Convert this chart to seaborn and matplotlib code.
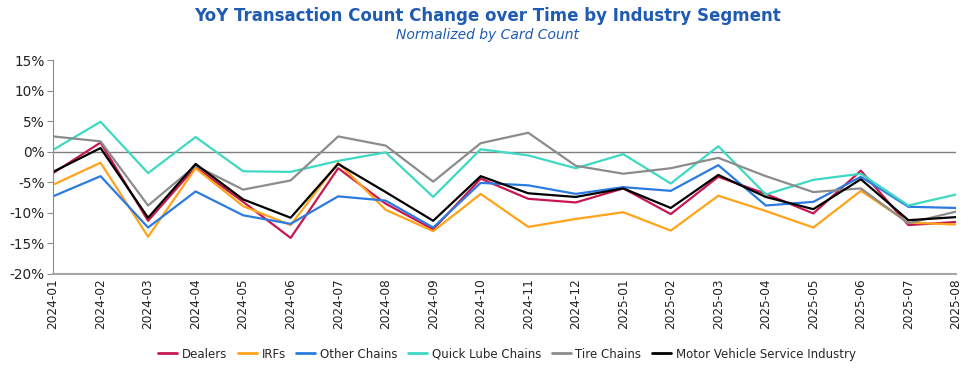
import matplotlib
matplotlib.use("Agg")
import matplotlib.pyplot as plt
import seaborn as sns
import pandas as pd
from matplotlib.ticker import FuncFormatter, MultipleLocator

months = ["2024-01", "2024-02", "2024-03", "2024-04", "2024-05", "2024-06", "2024-07",
          "2024-08", "2024-09", "2024-10", "2024-11", "2024-12", "2025-01", "2025-02",
          "2025-03", "2025-04", "2025-05", "2025-06", "2025-07", "2025-08"]

dealers = [-3.5, 1.5, -11.3, -2.5, -8.2, -14.1, -2.7, -8.5, -12.7, -4.4, -7.7, -8.3,
           -6.0, -10.2, -4.1, -6.9, -10.1, -3.1, -12.0, -11.5]
irfs = [-5.4, -1.8, -13.9, -2.7, -8.9, -12.0, -1.8, -9.5, -13.0, -6.9, -12.3, -11.0,
        -9.9, -12.9, -7.2, -9.7, -12.4, -6.4, -11.6, -11.9]
other_chains = [-7.3, -4.0, -12.4, -6.5, -10.4, -11.8, -7.3, -8.0, -12.4, -5.1, -5.5, -6.9,
                -5.8, -6.4, -2.2, -8.8, -8.2, -4.1, -9.0, -9.2]
quick_lube = [0.3, 4.9, -3.5, 2.4, -3.2, -3.3, -1.5, -0.1, -7.4, 0.4, -0.6, -2.7,
              -0.4, -5.2, 0.9, -7.0, -4.6, -3.6, -8.8, -7.0]
tire_chains = [2.5, 1.7, -8.8, -2.3, -6.2, -4.7, 2.5, 1.0, -4.9, 1.4, 3.1, -2.3,
               -3.6, -2.7, -1.0, -4.0, -6.6, -6.0, -11.7, -9.8]
mvsi = [-3.3, 0.6, -10.8, -2.0, -7.8, -10.8, -2.0, -6.6, -11.3, -4.0, -6.8, -7.4,
        -6.0, -9.2, -3.8, -7.4, -9.4, -4.5, -11.2, -10.7]

series_names = ["Dealers", "IRFs", "Other Chains", "Quick Lube Chains", "Tire Chains",
                "Motor Vehicle Service Industry"]
colors = ["#C8174F", "#FFA31A", "#2B7BE0", "#3ED9C3", "#8C8C8C", "#000000"]

title = "YoY Transaction Count Change over Time by Industry Segment"
subtitle = "Normalized by Card Count"

data = [dealers, irfs, other_chains, quick_lube, tire_chains, mvsi]
rows = []
for name, vals in zip(series_names, data):
    for i, (m, v) in enumerate(zip(months, vals)):
        rows.append({"idx": i, "Month": m, "Segment": name, "Value": v})
df = pd.DataFrame(rows)

sns.set_theme(style="white")
plt.rcParams["font.family"] = ["DejaVu Sans"]

fig = plt.figure(figsize=(9.75, 3.7), dpi=100)
ax = fig.add_axes([0.0544, 0.2595, 0.926, 0.5783])

sns.lineplot(data=df, x="idx", y="Value", hue="Segment", hue_order=series_names,
             palette=dict(zip(series_names, colors)), linewidth=1.6, ax=ax,
             legend=True, sort=False)

ax.axhline(0, color="#7F7F7F", linewidth=1.0, zorder=0)

ax.set_xlim(0, len(months) - 1)
ax.set_ylim(-20, 15)
ax.yaxis.set_major_locator(MultipleLocator(5))
ax.yaxis.set_major_formatter(FuncFormatter(lambda v, p: f"{v:.0f}%"))
ax.set_xticks(range(len(months)))
ax.set_xticklabels(months, rotation=90, fontsize=8.7, color="#222222")
ax.tick_params(axis="y", labelsize=9.8, colors="#222222", length=4, width=0.8,
               left=True, color="#8C8C8C", pad=2)
ax.tick_params(axis="x", length=0, pad=3)
ax.set_xlabel("")
ax.set_ylabel("")

for s in ["top", "right"]:
    ax.spines[s].set_visible(False)
ax.spines["left"].set_color("#8C8C8C")
ax.spines["left"].set_linewidth(0.8)
ax.spines["bottom"].set_color("#A6A6A6")
ax.spines["bottom"].set_linewidth(1.5)

handles, labels = ax.get_legend_handles_labels()
ax.legend_.remove()
for h in handles:
    h.set_linewidth(2.0)
fig.legend(handles, labels, loc="center", bbox_to_anchor=(0.52, 0.043), ncol=6,
           frameon=False, fontsize=8.5, handlelength=1.6, handletextpad=0.4,
           columnspacing=0.9)

fig.text(0.5, 0.958, title, ha="center", va="center", fontsize=12, fontweight="bold",
         color="#1F5BB0")
fig.text(0.5, 0.905, subtitle, ha="center", va="center", fontsize=10, style="italic",
         color="#1F5BB0")

fig.savefig("out.png", dpi=100)
